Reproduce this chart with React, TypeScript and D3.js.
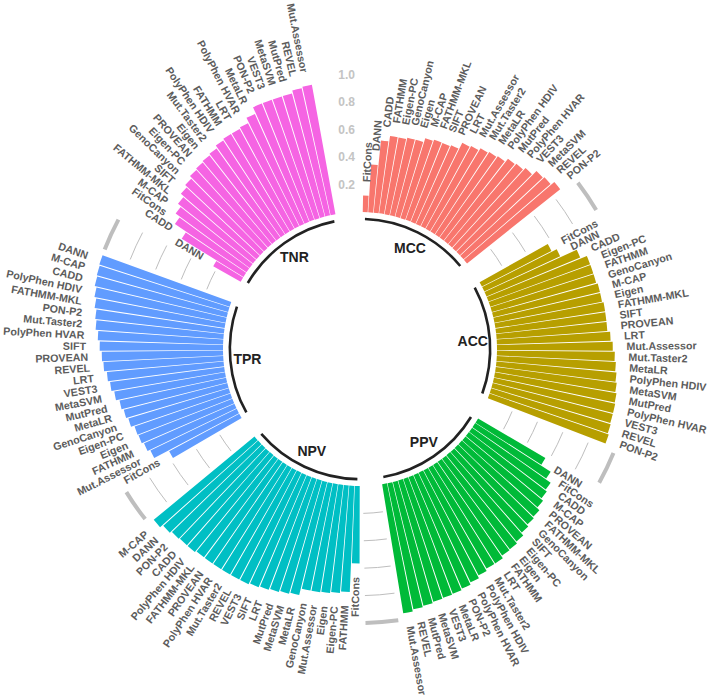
import React from 'react';
import * as d3 from 'd3';

const groups = ['MCC', 'ACC', 'PPV', 'NPV', 'TPR', 'TNR'];
const groupColors = ['#F8766D', '#B79F00', '#00BA38', '#00BFC4', '#619CFF', '#F564E3'];

const mccTools = ['FitCons', 'DANN', 'CADD', 'FATHMM', 'Eigen-PC', 'GenoCanyon', 'Eigen', 'M-CAP', 'FATHMM-MKL', 'SIFT', 'PROVEAN', 'LRT', 'Mut.Assessor', 'Mut.Taster2', 'MetaLR', 'PolyPhen HDIV', 'MutPred', 'PolyPhen HVAR', 'VEST3', 'MetaSVM', 'REVEL', 'PON-P2'];
const mccValues = [0.12, 0.35, 0.53, 0.57, 0.57, 0.58, 0.58, 0.61, 0.62, 0.62, 0.63, 0.68, 0.69, 0.71, 0.72, 0.73, 0.76, 0.77, 0.79, 0.83, 0.84, 0.87];

const accTools = ['FitCons', 'DANN', 'CADD', 'Eigen-PC', 'FATHMM', 'GenoCanyon', 'M-CAP', 'Eigen', 'FATHMM-MKL', 'SIFT', 'PROVEAN', 'LRT', 'Mut.Assessor', 'Mut.Taster2', 'MetaLR', 'PolyPhen HDIV', 'MetaSVM', 'MutPred', 'PolyPhen HVAR', 'VEST3', 'REVEL', 'PON-P2'];
const accValues = [0.57, 0.61, 0.74, 0.79, 0.79, 0.79, 0.80, 0.80, 0.81, 0.81, 0.81, 0.83, 0.845, 0.86, 0.87, 0.88, 0.89, 0.90, 0.905, 0.905, 0.91, 0.92];

const ppvTools = ['DANN', 'FitCons', 'CADD', 'M-CAP', 'PROVEAN', 'FATHMM-MKL', 'GenoCanyon', 'SIFT', 'Eigen-PC', 'Eigen', 'FATHMM', 'LRT', 'Mut.Taster2', 'PolyPhen HDIV', 'PolyPhen HVAR', 'PON-P2', 'MetaLR', 'VEST3', 'MetaSVM', 'MutPred', 'REVEL', 'Mut.Assessor'];
const ppvValues = [0.57, 0.655, 0.70, 0.715, 0.735, 0.76, 0.77, 0.785, 0.81, 0.825, 0.83, 0.85, 0.85, 0.865, 0.885, 0.90, 0.91, 0.915, 0.92, 0.93, 0.94, 0.955];

const npvTools = ['FitCons', 'FATHMM', 'Eigen-PC', 'Eigen', 'Mut.Assessor', 'GenoCanyon', 'MetaLR', 'MetaSVM', 'MutPred', 'LRT', 'SIFT', 'VEST3', 'REVEL', 'Mut.Taster2', 'PolyPhen HVAR', 'PROVEAN', 'FATHMM-MKL', 'PolyPhen HDIV', 'CADD', 'PON-P2', 'DANN', 'M-CAP'];
const npvValues = [0.565, 0.775, 0.787, 0.795, 0.80, 0.80, 0.85, 0.86, 0.87, 0.88, 0.89, 0.90, 0.90, 0.90, 0.90, 0.90, 0.90, 0.91, 0.91, 0.915, 0.93, 0.955];

const tprTools = ['FitCons', 'Mut.Assessor', 'FATHMM', 'Eigen', 'Eigen-PC', 'GenoCanyon', 'MetaLR', 'MutPred', 'MetaSVM', 'VEST3', 'LRT', 'REVEL', 'PROVEAN', 'SIFT', 'PolyPhen HVAR', 'Mut.Taster2', 'PON-P2', 'FATHMM-MKL', 'PolyPhen HDIV', 'CADD', 'M-CAP', 'DANN'];
const tprValues = [0.58, 0.70, 0.72, 0.735, 0.74, 0.765, 0.78, 0.795, 0.82, 0.84, 0.855, 0.875, 0.885, 0.90, 0.915, 0.935, 0.945, 0.96, 0.975, 0.99, 0.995, 1.0];

const tnrTools = ['DANN', 'CADD', 'FitCons', 'M-CAP', 'FATHMM-MKL', 'SIFT', 'GenoCanyon', 'Eigen-PC', 'PROVEAN', 'Eigen', 'Mut.Taster2', 'PolyPhen HDIV', 'FATHMM', 'LRT', 'PolyPhen HVAR', 'MetaLR', 'PON-P2', 'VEST3', 'MetaSVM', 'MutPred', 'REVEL', 'Mut.Assessor'];
const tnrValues = [0.23, 0.53, 0.63, 0.67, 0.70, 0.73, 0.75, 0.77, 0.78, 0.79, 0.80, 0.82, 0.83, 0.83, 0.84, 0.88, 0.93, 0.93, 0.93, 0.93, 0.95, 0.96];

const tickValues = [0.2, 0.4, 0.6, 0.8, 1.0];
const tickLabels = ['0.2', '0.4', '0.6', '0.8', '1.0'];
const thinGridValues = [0.2, 0.4, 0.6, 0.8];
const thickGridValue = 1.0;

const groupTools = [mccTools, accTools, ppvTools, npvTools, tprTools, tnrTools];
const groupValues = [mccValues, accValues, ppvValues, npvValues, tprValues, tnrValues];

export default function App() {
  const W = 709;
  const H = 698;
  const cx = 360;
  const cy = 349;
  const perGroup = 22;
  const empty = 4;
  const N = groups.length * (perGroup + empty);

  const x = d3.scaleLinear().domain([0.05, N + 0.95]).range([0, 2 * Math.PI]);
  const y = d3.scaleLinear().domain([-1, 1]).range([0, 274]);

  type Bar = { g: number; tool: string; value: number; id: number };
  const data: Bar[] = [];
  groupTools.forEach((tools, g) => {
    tools.forEach((t, i) => {
      data.push({ g, tool: t, value: groupValues[g][i], id: g * (perGroup + empty) + i + 1 });
    });
  });

  const base = groups.map((name, g) => {
    const start = g * (perGroup + empty) + 1;
    const end = start + perGroup - 1;
    return { name, start, end, mid: (start + end) / 2 };
  });

  const arcGen = d3.arc<any>();
  const arcLine = (r: number, a0: number, a1: number) => {
    const p = d3.path();
    p.arc(0, 0, r, a0 - Math.PI / 2, a1 - Math.PI / 2);
    return p.toString();
  };
  const polar = (a: number, r: number) => [r * Math.sin(a), -r * Math.cos(a)];

  const grid = base.slice(1).map((b, k) => ({ from: base[k].end + 1, to: b.start - 1 }));

  return (
    <svg width={W} height={H} style={{ position: 'absolute', left: 0, top: 0, background: '#fff' }}
      fontFamily="'Liberation Sans', Arial, sans-serif">
      <g transform={`translate(${cx},${cy})`}>
        {grid.map((s, i) => (
          <g key={'grid' + i}>
            {thinGridValues.map((v) => (
              <path key={v} d={arcLine(y(v), x(s.from), x(s.to))} fill="none" stroke="#bebebe" strokeWidth={1} />
            ))}
            <path d={arcLine(y(thickGridValue), x(s.from), x(s.to))} fill="none" stroke="#bebebe" strokeWidth={4} />
          </g>
        ))}
        {data.map((d) => (
          <path key={d.g + '-' + d.id}
            d={arcGen({ innerRadius: y(0), outerRadius: y(d.value), startAngle: x(d.id - 0.45), endAngle: x(d.id + 0.45) }) as string}
            fill={groupColors[d.g]} />
        ))}
        {tickValues.map((v, i) => {
          const [px, py] = polar(x(N + 0.95), y(v));
          return (
            <text key={'tick' + v} x={px - 5} y={py} textAnchor="end" dominantBaseline="central"
              fontSize={12} fontWeight="bold" fill="#c4c4c4">{tickLabels[i]}</text>
          );
        })}
        {data.map((d) => {
          const a = x(d.id);
          const deg = (a * 180) / Math.PI;
          const [px, py] = polar(a, y(d.value + 0.1));
          const right = deg <= 180;
          const rot = right ? deg - 90 : deg + 90;
          return (
            <text key={'lab' + d.g + '-' + d.id} transform={`translate(${px},${py}) rotate(${rot})`}
              textAnchor={right ? 'start' : 'end'} dominantBaseline="central"
              fontSize={10.7} fontWeight="bold" fill="#5c5c5c">{d.tool}</text>
          );
        })}
        {base.map((b) => (
          <path key={'base' + b.name} d={arcLine(y(-0.05), x(b.start), x(b.end))} fill="none" stroke="#222" strokeWidth={2.6} />
        ))}
        {base.map((b) => {
          const [px, py] = polar(x(b.mid), y(-0.175));
          return (
            <text key={'gl' + b.name} x={px} y={py} textAnchor="middle" dominantBaseline="central"
              fontSize={14} fontWeight="bold" fill="#222">{b.name}</text>
          );
        })}
      </g>
    </svg>
  );
}
